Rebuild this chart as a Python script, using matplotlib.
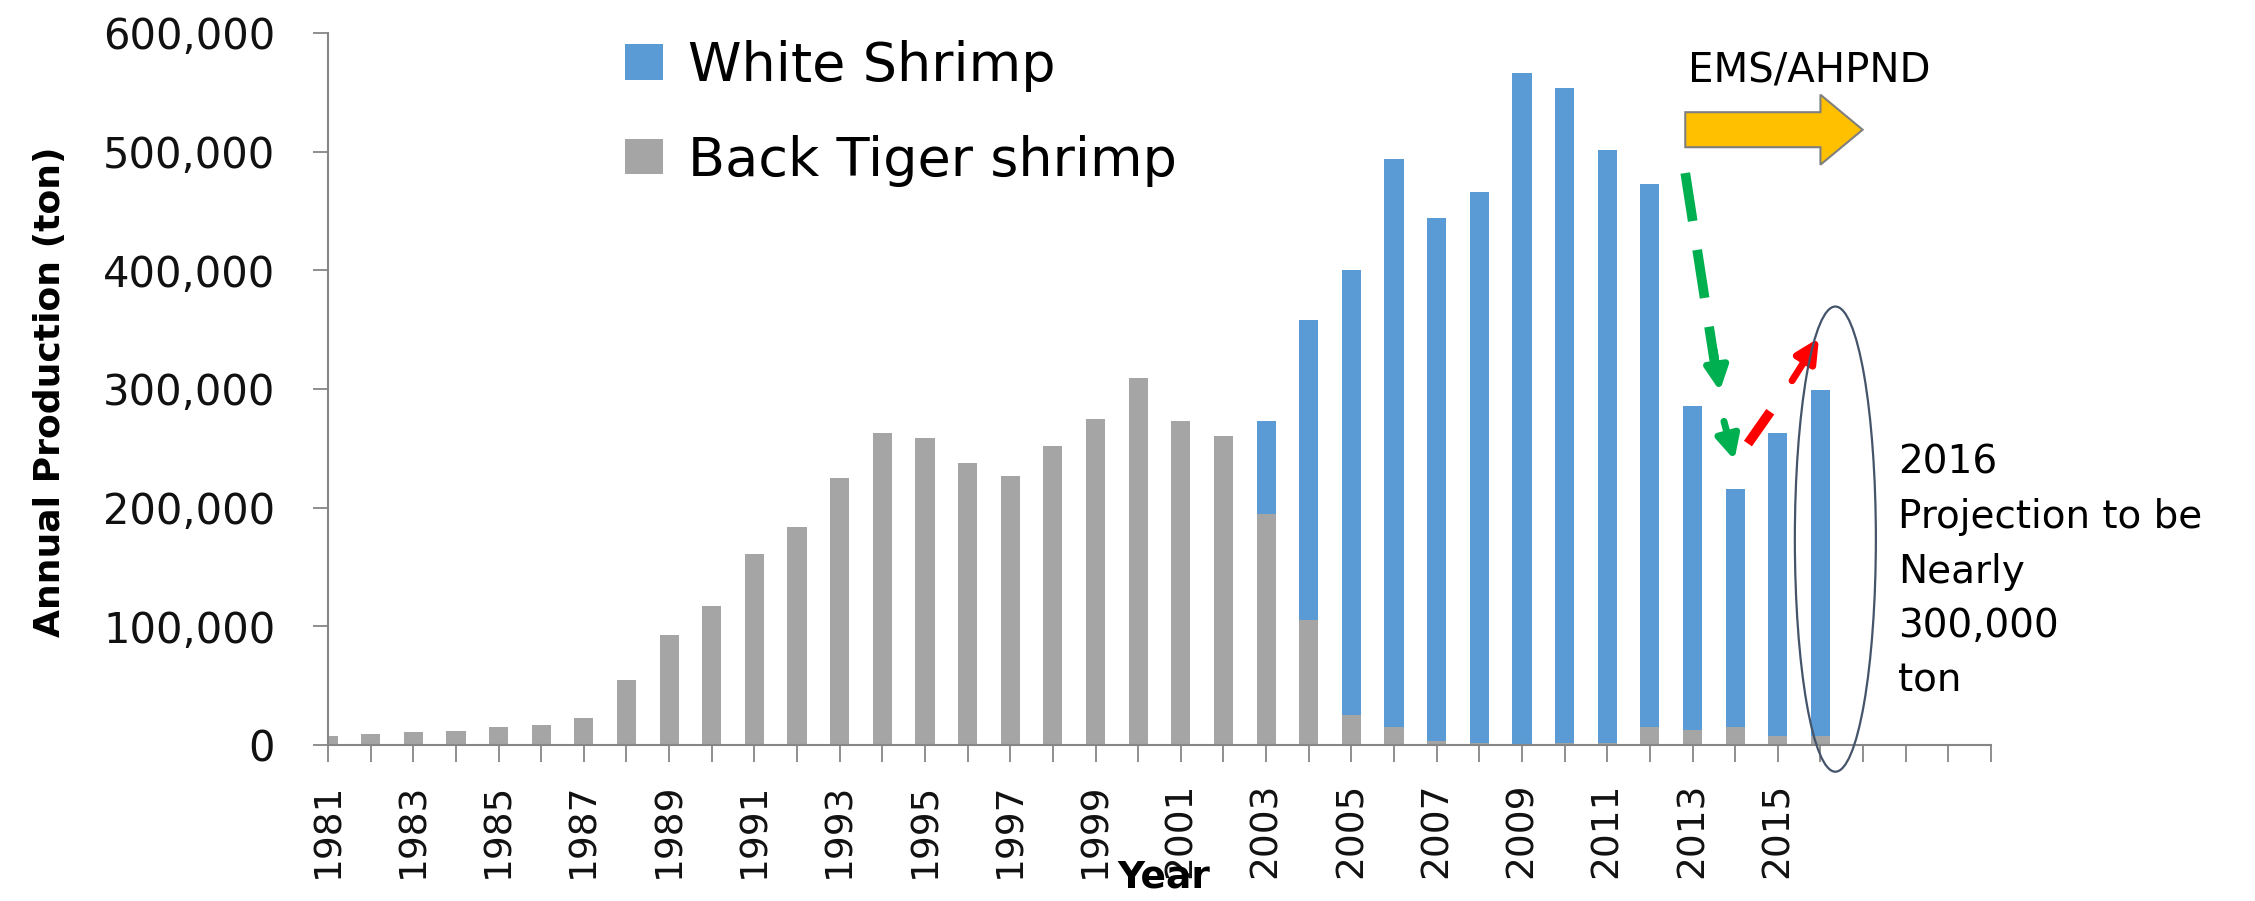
import matplotlib
matplotlib.use("Agg")
import matplotlib.pyplot as plt
from matplotlib.patches import Ellipse, FancyArrow

# production (ton)
years = list(range(1981, 2017))
tiger = [8000, 9000, 11000, 12000, 15000, 17000, 23000, 55000, 93000, 117000,
         161000, 184000, 225000, 263000, 259000, 238000, 227000, 252000, 275000, 309000,
         273000, 260000, 195000, 105000, 25000, 15000, 3000, 2000, 1000, 2000,
         2000, 15000, 13000, 15000, 8000, 8000]
white = [0, 0, 0, 0, 0, 0, 0, 0, 0, 0,
         0, 0, 0, 0, 0, 0, 0, 0, 0, 0,
         0, 0, 78000, 253000, 375000, 479000, 441000, 464000, 565000, 552000,
         499000, 458000, 273000, 201000, 255000, 291000]

tick_years = list(range(1981, 2021))
tick_labels = [str(y) if (y % 2 == 1 and y <= 2015) else "" for y in tick_years]
y_ticks = [0, 100000, 200000, 300000, 400000, 500000, 600000]

BLUE = "#5B9BD5"
GRAY = "#A5A5A5"
AXC = "#868686"

fig = plt.figure(figsize=(22.55, 9.01), dpi=100)
ax = fig.add_axes([328 / 2255, 1 - 745 / 901, (1991 - 328) / 2255, (745 - 33) / 901])

b1 = ax.bar(years, tiger, width=0.45, color=GRAY, zorder=2)
b2 = ax.bar(years, white, width=0.45, bottom=tiger, color=BLUE, zorder=2)

ax.set_xlim(1981, 2020)
ax.set_ylim(0, 600000)
ax.set_yticks(y_ticks)
ax.set_yticklabels(["{:,}".format(v) for v in y_ticks], fontsize=30, color="#111111")
ax.set_xticks(tick_years)
ax.set_xticklabels(tick_labels, rotation=90, fontsize=27, color="#111111")
ax.tick_params(axis="y", length=11, width=1.3, color=AXC, pad=27)
ax.tick_params(axis="x", length=12, width=1.3, color=AXC, pad=15)

for s in ["top", "right"]:
    ax.spines[s].set_visible(False)
for s in ["left", "bottom"]:
    ax.spines[s].set_color(AXC)
    ax.spines[s].set_linewidth(1.5)

fig.text(50 / 2255, 1 - 392 / 901, "Annual Production (ton)", rotation=90,
         fontsize=26, fontweight="bold", ha="center", va="center")
fig.text(1164 / 2255, 1 - 878 / 901, "Year", fontsize=27, fontweight="bold",
         ha="center", va="center")

ax.legend([b2, b1], ["White Shrimp", "Back Tiger shrimp"], loc="upper left",
          bbox_to_anchor=(625 / 2255, 1 - 40 / 901), bbox_transform=fig.transFigure,
          frameon=False, fontsize=39, borderpad=0, borderaxespad=0,
          handlelength=0.70, handleheight=0.63, handletextpad=0.46,
          labelspacing=0.79)

# EMS/AHPND label and block arrow
ax.text(2012.9, 558000, "EMS/AHPND", fontsize=29, ha="left", va="baseline")
ax.add_patch(FancyArrow(2012.83, 518500, 4.16, 0, width=29500, head_width=59000,
                        head_length=0.99, length_includes_head=True,
                        facecolor="#FFC000", edgecolor="#7f7f7f", lw=1.5, zorder=4))

# green dashed arrows (decline)
ax.plot([2012.83, 2013.55], [482000, 315000], color="#00B050", lw=7,
        ls=(0, (5, 3)), zorder=4, solid_capstyle="butt")
ax.annotate("", xy=(2013.65, 296000), xytext=(2013.5, 335000),
            arrowprops=dict(arrowstyle="-|>", color="#00B050", lw=5,
                            mutation_scale=35), zorder=5)
ax.annotate("", xy=(2014.0, 238000), xytext=(2013.72, 275000),
            arrowprops=dict(arrowstyle="-|>", color="#00B050", lw=5,
                            mutation_scale=35), zorder=5)

# red dashed arrow (recovery)
ax.plot([2014.3, 2015.1], [254000, 295000], color="#FF0000", lw=7,
        ls=(0, (4, 3)), zorder=4, solid_capstyle="butt")
ax.annotate("", xy=(2016.0, 345000), xytext=(2015.3, 305000),
            arrowprops=dict(arrowstyle="-|>", color="#FF0000", lw=5,
                            mutation_scale=35), zorder=5)

# ellipse around the 2016 projection
ax.add_patch(Ellipse((2016.35, 173500), 1.9, 392000, fill=False,
                     edgecolor="#44546A", lw=1.6, zorder=5, clip_on=False))

ax.text(2017.83, 254000, "2016\nProjection to be\nNearly\n300,000\nton",
        fontsize=28, ha="left", va="top", linespacing=1.55, clip_on=False)

fig.savefig("out.png", dpi=100)
